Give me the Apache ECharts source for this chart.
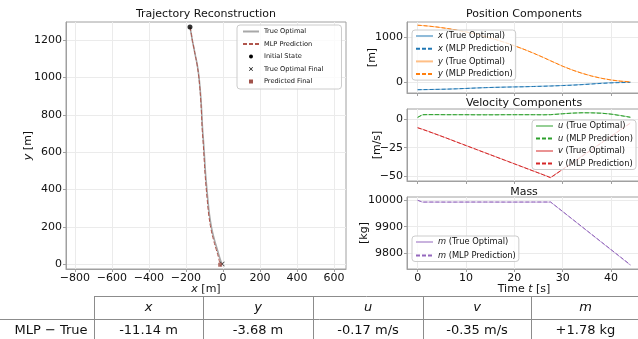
<!DOCTYPE html>
<html>
<head>
<meta charset="utf-8">
<script src="https://cdn.jsdelivr.net/npm/echarts@6/dist/echarts.min.js"></script>
<style>
html, body { margin: 0; padding: 0; background: #fff; }
#chart { width: 638px; height: 339px; }
</style>
</head>
<body>
<div id="chart"></div>
<script>
// time samples [s]
const timeS = [0, 1, 2, 4, 6, 8, 10, 12, 14, 16, 18, 20, 22, 24, 26, 27.5, 30, 32, 34, 36, 38, 40, 42, 44]

// position [m]
const trueX = [-178, -176.5, -175, -170.5, -165.5, -158, -149.5, -139.5, -131, -124.5, -119, -114.5, -110.5, -104, -98, -93, -82, -73, -61, -46, -31, -20, -11, -4]
const mlpX = [-178, -176.4, -174.8, -170.3, -165.4, -158.1, -149.8, -140, -131.8, -125.5, -120.3, -116, -112.3, -106.1, -100.4, -95.7, -85.2, -76.6, -65, -50.5, -36, -25, -18.6, -15.1]
const trueY = [1270, 1262, 1253, 1229, 1199, 1163, 1120, 1071, 1015, 953, 885, 810, 729, 641, 547, 472, 350, 265, 192, 130, 80, 42, 15, 0.5]
const mlpY = [1270, 1262.1, 1253.2, 1229.4, 1199.3, 1163.1, 1119.9, 1070.7, 1014.6, 952.4, 884.2, 809.1, 727.9, 639.7, 545.5, 470.6, 348.3, 263.1, 189.9, 127.7, 77.5, 39.4, 12.1, -3.2]

// velocity [m/s]
const trueU = [1.5, 3.8, 3.9, 3.9, 3.9, 3.9, 3.9, 3.9, 3.9, 3.9, 3.9, 3.9, 3.9, 3.9, 3.9, 4.0, 4.8, 5.3, 5.6, 5.6, 5.3, 4.5, 3.2, 1.8]
const mlpU = [1.6, 3.9, 4.0, 4.0, 3.9, 3.9, 3.9, 3.8, 3.8, 3.8, 3.9, 3.9, 3.9, 3.9, 3.8, 3.9, 4.7, 5.3, 5.6, 5.5, 5.2, 4.4, 3.1, 1.63]
const trueV = [-7.5, -8.8, -10.3, -13.4, -16.6, -19.8, -23, -26.2, -29.4, -32.6, -35.8, -39, -42.2, -45.4, -48.6, -51, -43.8, -38, -32.2, -26.4, -20.6, -14.8, -9, -3.2]
const mlpV = [-7.5, -8.9, -10.4, -13.5, -16.6, -19.9, -23.1, -26.3, -29.5, -32.7, -35.9, -39.1, -42.3, -45.5, -48.7, -51.2, -44, -38.3, -32.5, -26.7, -20.9, -15.1, -9.3, -3.55]

// mass [kg]
const trueM = [10000, 9993, 9993, 9993, 9993, 9993, 9993, 9993, 9993, 9993, 9993, 9993, 9993, 9993, 9993, 9993, 9957, 9928, 9899, 9870, 9841, 9812, 9783, 9754]
const mlpM = [10000, 9993.2, 9993.3, 9993.3, 9993.2, 9993.2, 9993.3, 9993.4, 9993.4, 9993.3, 9993.2, 9993.2, 9993.3, 9993.4, 9993.4, 9993.5, 9957.6, 9928.7, 9899.8, 9870.9, 9842.1, 9813.3, 9784.5, 9755.78]

// tick labels
const trajXTicks = [-800, -600, -400, -200, 0, 200, 400, 600]
const trajYTicks = [0, 200, 400, 600, 800, 1000, 1200]
const timeTicks = [0, 10, 20, 30, 40]
const posTicks = [0, 1000]
const velTicks = [-50, -25, 0]
const massTicks = [9800, 9900, 10000]

// error table
const tableHeaders = ['x', 'y', 'u', 'v', 'm']
const tableRowLabel = 'MLP \u2212 True'
const tableValues = ['-11.14 m', '-3.68 m', '-0.17 m/s', '-0.35 m/s', '+1.78 kg']

const FONT = 'DejaVu Sans'
const INK = '#111'
const FRAME = '#a0a0a0'
const X_PATH = 'path://M1,0L5,4L9,0L10,1L6,5L10,9L9,10L5,6L1,10L0,9L4,5L0,1Z'
const SQUARE_PATH = 'path://M0,0H10V10H0Z'

const COLORS = {
	'True Optimal': '#a8a8a8',
	'MLP Prediction': '#b0554c',
	'Initial State': '#000',
	'True Optimal Final': '#000',
	'Predicted Final': '#a0524a',
	'x (True Optimal)': '#8fbbd9',
	'x (MLP Prediction)': '#1f77b4',
	'y (True Optimal)': '#ffbf86',
	'y (MLP Prediction)': '#ff7f0e',
	'u (True Optimal)': '#95cf95',
	'u (MLP Prediction)': '#2ca02c',
	'v (True Optimal)': '#ea9393',
	'v (MLP Prediction)': '#d62728',
	'm (True Optimal)': '#c9b3de',
	'm (MLP Prediction)': '#9467bd'
}

const pairs = (xs, ys) => xs.map((x, i) => [x, ys[i]])
const minus = (v) => String(v).replace('-', '\u2212')
const italicRich = (size) => ({ i: { fontStyle: 'italic', fontFamily: FONT, fontSize: size, color: INK } })

function axis(gridIndex, min, max, ticks, opts) {
	return {
		type: 'value',
		gridIndex,
		min,
		max,
		name: opts.name || '',
		nameLocation: 'middle',
		nameGap: opts.nameGap || 0,
		nameMoveOverlap: false,
		nameTextStyle: { color: INK, fontFamily: FONT, fontSize: 11, rich: italicRich(11) },
		axisLine: { show: true, onZero: false, lineStyle: { color: FRAME, width: 1 } },
		axisTick: { show: true, length: 3, customValues: ticks, lineStyle: { color: FRAME } },
		axisLabel: {
			show: opts.labels !== false,
			customValues: ticks,
			color: INK,
			fontFamily: FONT,
			fontSize: 11,
			margin: 4,
			formatter: minus
		},
		splitLine: { show: true, customValues: ticks, lineStyle: { color: '#ebebeb', width: 1 } }
	}
}

function lineSeries(name, idx, data, dashed, width, smooth) {
	const color = COLORS[name]
	return {
		name,
		type: 'line',
		xAxisIndex: idx,
		yAxisIndex: idx,
		data,
		symbol: 'none',
		smooth: smooth || false,
		silent: true,
		lineStyle: { color, width: width || 1, type: dashed ? [4, 2] : 'solid' },
		itemStyle: { color }
	}
}

function markerSeries(name, point, symbol, size) {
	return {
		name,
		type: 'scatter',
		xAxisIndex: 0,
		yAxisIndex: 0,
		data: [point],
		symbol,
		symbolSize: size,
		silent: true,
		z: 5,
		itemStyle: { color: COLORS[name] }
	}
}

// line handles: the legend symbol of a line series is hidden, only its line stays
const lineItem = (name) => ({ name, lineStyle: { color: COLORS[name] } })
const markerItem = (name, icon) => ({ name, icon, itemStyle: { color: COLORS[name], opacity: 1 } })

function legend(names, left, top, fontSize, itemGap, italic) {
	return {
		data: names.map((n) => (typeof n === 'string' ? lineItem(n) : n)),
		orient: 'vertical',
		left,
		top,
		itemWidth: 17,
		itemHeight: 6,
		itemGap,
		padding: [2, 3, 2, 3],
		selectedMode: false,
		backgroundColor: 'rgba(255,255,255,0.8)',
		borderColor: '#cccccc',
		borderWidth: 1,
		borderRadius: 3,
		itemStyle: { opacity: 0, borderWidth: 0 },
		formatter: italic ? (n) => '{i|' + n[0] + '}' + n.slice(1) : undefined,
		textStyle: { color: INK, fontFamily: FONT, fontSize, rich: italicRich(fontSize) }
	}
}

const last = trueX.length - 1
const titleStyle = { color: INK, fontFamily: FONT, fontSize: 11, fontWeight: 'normal' }

const option = {
	animation: false,
	backgroundColor: '#fff',
	textStyle: { fontFamily: FONT },
	title: [
		{ text: 'Trajectory Reconstruction', left: 206, top: 9, textAlign: 'center', padding: 0, textStyle: titleStyle },
		{ text: 'Position Components', left: 524, top: 9, textAlign: 'center', padding: 0, textStyle: titleStyle },
		{ text: 'Velocity Components', left: 524, top: 98, textAlign: 'center', padding: 0, textStyle: titleStyle },
		{ text: 'Mass', left: 524, top: 187, textAlign: 'center', padding: 0, textStyle: titleStyle }
	],
	grid: [
		{ left: 66, top: 22, width: 280, height: 247 },
		{ left: 407, top: 22, width: 234, height: 71 },
		{ left: 407, top: 109, width: 234, height: 72 },
		{ left: 407, top: 197, width: 234, height: 72 }
	].map((g) => ({ ...g, show: true, borderColor: FRAME, borderWidth: 1, outerBoundsMode: 'none' })),
	xAxis: [
		axis(0, -848, 665, trajXTicks, { name: '{i|x} [m]', nameGap: 15 }),
		axis(1, -2.2, 46.2, timeTicks, { labels: false }),
		axis(2, -2.2, 46.2, timeTicks, { labels: false }),
		axis(3, -2.2, 46.2, timeTicks, { name: 'Time {i|t} [s]', nameGap: 15 })
	],
	yAxis: [
		axis(0, -26, 1297, trajYTicks, { name: '{i|y} [m]', nameGap: 32 }),
		axis(1, -252, 1342, posTicks, { name: '[m]', nameGap: 29 }),
		axis(2, -54.1, 8.9, velTicks, { name: '[m/s]', nameGap: 24 }),
		axis(3, 9739.6, 10012.4, massTicks, { name: '[kg]', nameGap: 37 })
	],
	legend: [
		{
			...legend([
				lineItem('True Optimal'),
				lineItem('MLP Prediction'),
				markerItem('Initial State', 'circle'),
				markerItem('True Optimal Final', X_PATH),
				markerItem('Predicted Final', SQUARE_PATH)
			], 237, 25, 6.6, 5.5, false),
			itemWidth: 16,
			itemHeight: 4,
			padding: [3, 18, 4, 5]
		},
		legend(['x (True Optimal)', 'x (MLP Prediction)', 'y (True Optimal)', 'y (MLP Prediction)'], 412, 30, 8.3, 4.7, true),
		legend(['u (True Optimal)', 'u (MLP Prediction)', 'v (True Optimal)', 'v (MLP Prediction)'], 532, 120, 8.3, 4.5, true),
		legend(['m (True Optimal)', 'm (MLP Prediction)'], 412, 236, 8.3, 5.5, true)
	],
	series: [
		lineSeries('True Optimal', 0, pairs(trueX, trueY), false, 1.6, 0.4),
		lineSeries('MLP Prediction', 0, pairs(mlpX, mlpY), true, 1, 0.4),
		markerSeries('Initial State', [trueX[0], trueY[0]], 'circle', 5),
		markerSeries('True Optimal Final', [trueX[last], trueY[last]], X_PATH, 5),
		markerSeries('Predicted Final', [mlpX[last], mlpY[last]], SQUARE_PATH, 4),

		lineSeries('x (True Optimal)', 1, pairs(timeS, trueX), false),
		lineSeries('x (MLP Prediction)', 1, pairs(timeS, mlpX), true),
		lineSeries('y (True Optimal)', 1, pairs(timeS, trueY), false),
		lineSeries('y (MLP Prediction)', 1, pairs(timeS, mlpY), true),

		lineSeries('u (True Optimal)', 2, pairs(timeS, trueU), false),
		lineSeries('u (MLP Prediction)', 2, pairs(timeS, mlpU), true),
		lineSeries('v (True Optimal)', 2, pairs(timeS, trueV), false),
		lineSeries('v (MLP Prediction)', 2, pairs(timeS, mlpV), true),

		lineSeries('m (True Optimal)', 3, pairs(timeS, trueM), false),
		lineSeries('m (MLP Prediction)', 3, pairs(timeS, mlpM), true)
	]
}

// table below the plots
const colEdges = [94, 203, 313, 423, 531, 640]
const headTop = 296.5
const rowTop = 319.5
const tableBottom = 345
const tableLine = (x1, y1, x2, y2) => ({
	type: 'line',
	shape: { x1, y1, x2, y2 },
	style: { stroke: '#8c8c8c', lineWidth: 1 }
})
const tableText = (text, x, y, italic) => ({
	type: 'text',
	x,
	y,
	style: {
		text,
		align: 'center',
		verticalAlign: 'middle',
		fill: INK,
		fontFamily: FONT,
		fontSize: 13,
		fontStyle: italic ? 'italic' : 'normal'
	}
})
const tableParts = [tableLine(colEdges[0], headTop, 640, headTop), tableLine(0, rowTop, 640, rowTop)]
colEdges.forEach((x) => tableParts.push(tableLine(x + 0.5, headTop, x + 0.5, tableBottom)))
tableHeaders.forEach((h, i) => tableParts.push(tableText(h, (colEdges[i] + colEdges[i + 1]) / 2, 307.5, true)))
tableValues.forEach((v, i) => tableParts.push(tableText(v, (colEdges[i] + colEdges[i + 1]) / 2, 331, false)))
tableParts.push(tableText(tableRowLabel, 51, 331, false))
option.graphic = tableParts

const chart = echarts.init(document.getElementById('chart'))
chart.setOption(option)
</script>
</body>
</html>
